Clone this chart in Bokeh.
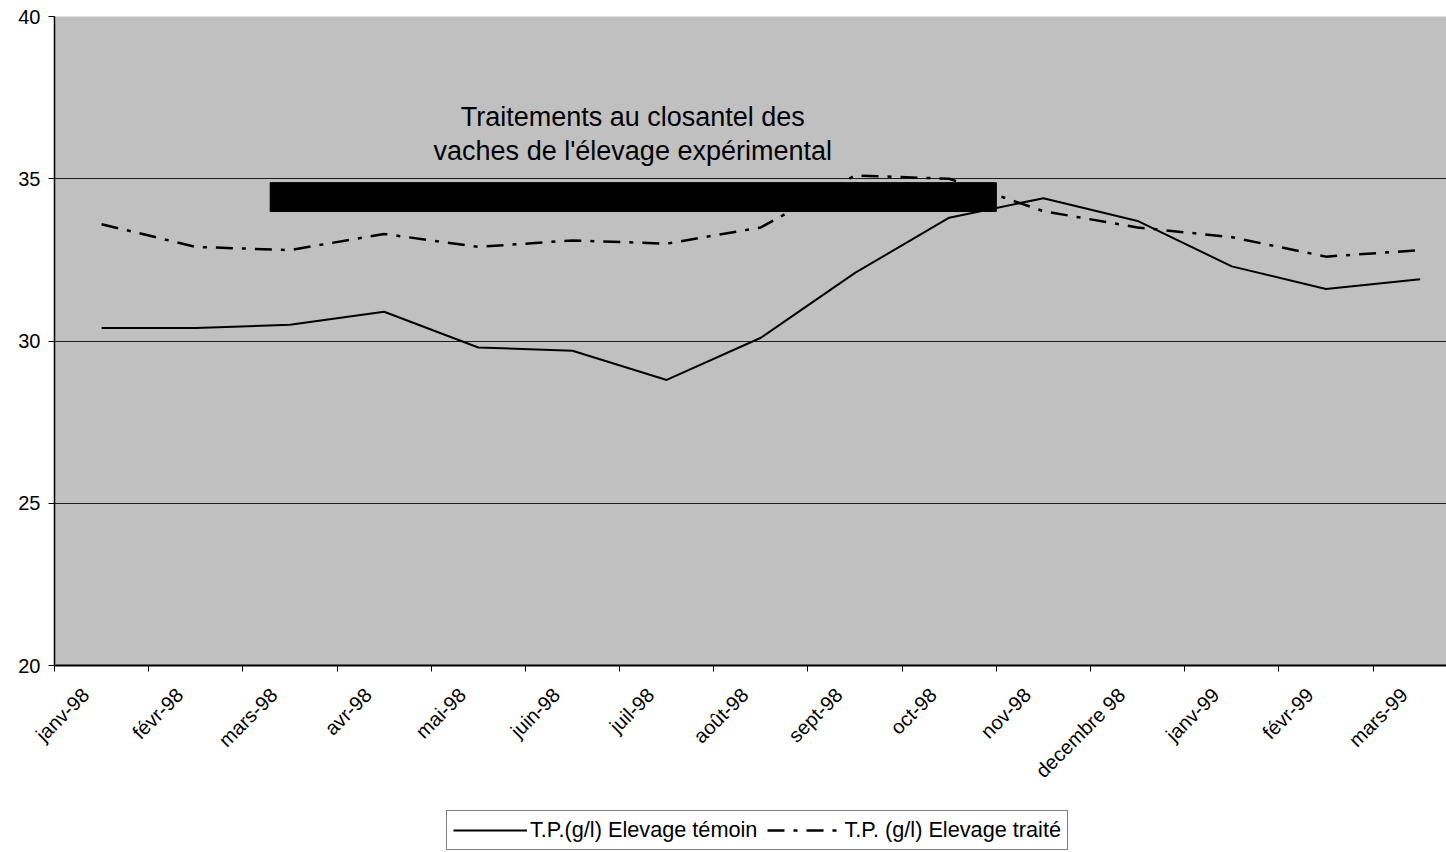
from math import pi
from bokeh.plotting import figure
from bokeh.layouts import column
from bokeh.models import FixedTicker, Legend, LegendItem, BoxAnnotation, Label, Range1d
from bokeh.embed import file_html
from bokeh.resources import INLINE

months = ["janv-98", "févr-98", "mars-98", "avr-98", "mai-98", "juin-98", "juil-98",
          "août-98", "sept-98", "oct-98", "nov-98", "decembre 98", "janv-99", "févr-99", "mars-99"]
temoin = [30.4, 30.4, 30.5, 30.9, 29.8, 29.7, 28.8, 30.1, 32.1, 33.8, 34.4, 33.7, 32.3, 31.6, 31.9]
traite = [33.6, 32.9, 32.8, 33.3, 32.9, 33.1, 33.0, 33.5, 35.1, 35.0, 34.0, 33.5, 33.2, 32.6, 32.8]
y_ticks = [20, 25, 30, 35, 40]
series_names = ["T.P.(g/l) Elevage témoin", "T.P. (g/l) Elevage traité"]
annotation_lines = ["Traitements au closantel des", "vaches de l'élevage expérimental"]

FONT = "Liberation Sans"
n = len(months)
xc = [i + 0.5 for i in range(n)]          # category centres
label_pos = [c - 0.17 for c in xc]         # label anchor (rotated labels sit left of centre)

p = figure(width=1446, height=800, output_backend="svg", toolbar_location=None,
           x_range=Range1d(0, 14.78), y_range=Range1d(20, 40),
           min_border_left=54, min_border_right=0, min_border_top=16, min_border_bottom=135)
p.background_fill_color = "#C0C0C0"
p.border_fill_color = "white"
p.outline_line_color = None

# x axis: labels near category centres, tick marks at category boundaries (minor ticks)
p.xaxis.ticker = FixedTicker(ticks=label_pos, minor_ticks=list(range(n + 1)))
p.xaxis.major_label_overrides = {x: m for x, m in zip(label_pos, months)}
p.xaxis.major_label_orientation = pi / 4
p.xaxis.major_tick_out = 0
p.xaxis.major_tick_in = 0
p.xaxis.minor_tick_out = 6
p.xaxis.minor_tick_in = 0
p.xaxis.minor_tick_line_color = "black"
p.xaxis.axis_line_color = "black"
p.xaxis.axis_line_width = 2
p.xaxis.major_label_text_font = FONT
p.xaxis.major_label_text_font_size = "20px"
p.xaxis.major_label_text_color = "black"
p.xaxis.major_label_standoff = 20

p.yaxis.ticker = FixedTicker(ticks=y_ticks)
p.yaxis.major_tick_out = 6
p.yaxis.major_tick_in = 0
p.yaxis.minor_tick_out = 0
p.yaxis.minor_tick_in = 0
p.yaxis.major_tick_line_color = "black"
p.yaxis.axis_line_color = "black"
p.yaxis.axis_line_width = 1.5
p.yaxis.major_label_text_font = FONT
p.yaxis.major_label_text_font_size = "20px"
p.yaxis.major_label_text_color = "black"
p.yaxis.major_label_standoff = 8

p.xgrid.visible = False
p.ygrid.ticker = FixedTicker(ticks=y_ticks)
p.ygrid.grid_line_color = "black"
p.ygrid.grid_line_width = 1
p.ygrid.grid_line_alpha = 0.85

r1 = p.line(xc, temoin, line_color="black", line_width=2)
r2 = p.line(xc, traite, line_color="black", line_width=2.5, line_dash="17 9 4 9")

box = BoxAnnotation(left=2.29, right=10.0, bottom=33.99, top=34.88,
                    fill_color="black", fill_alpha=1.0, line_color="black", line_alpha=1.0)
p.add_layout(box)

for txt, yv in zip(annotation_lines, [36.89, 35.87]):
    p.add_layout(Label(x=6.14, y=yv, text=txt, text_align="center", text_baseline="middle",
                       text_font=FONT, text_font_size="27px", text_color="black"))

# legend strip below the chart (its frame is aligned with the chart frame by the column)
p2 = figure(width=1446, height=52, output_backend="svg", toolbar_location=None,
            x_range=Range1d(0, 1), y_range=Range1d(0, 1),
            x_axis_type=None, y_axis_type=None,
            min_border_left=0, min_border_right=0, min_border_top=0, min_border_bottom=0)
p2.outline_line_color = None
p2.background_fill_color = "white"
p2.border_fill_color = "white"
# same series, drawn out of this strip's view: only their legend glyphs show
l1 = p2.line(xc, temoin, line_color="black", line_width=2)
l2 = p2.line(xc, traite, line_color="black", line_width=2.5, line_dash="17 9 4 9")

legend = Legend(items=[LegendItem(label=series_names[0], renderers=[l1]),
                       LegendItem(label=series_names[1], renderers=[l2])],
                orientation="horizontal", location=(392, 2))
legend.label_text_font = FONT
legend.label_text_font_size = "21.7px"
legend.label_text_color = "black"
legend.border_line_color = "black"
legend.border_line_width = 1
legend.background_fill_color = "white"
legend.glyph_width = 74
legend.label_standoff = 3
legend.spacing = 10
legend.padding = 6
legend.margin = 0
p2.add_layout(legend)

layout = column(p, p2, spacing=0)
open("out.html", "w").write(file_html(layout, INLINE))
